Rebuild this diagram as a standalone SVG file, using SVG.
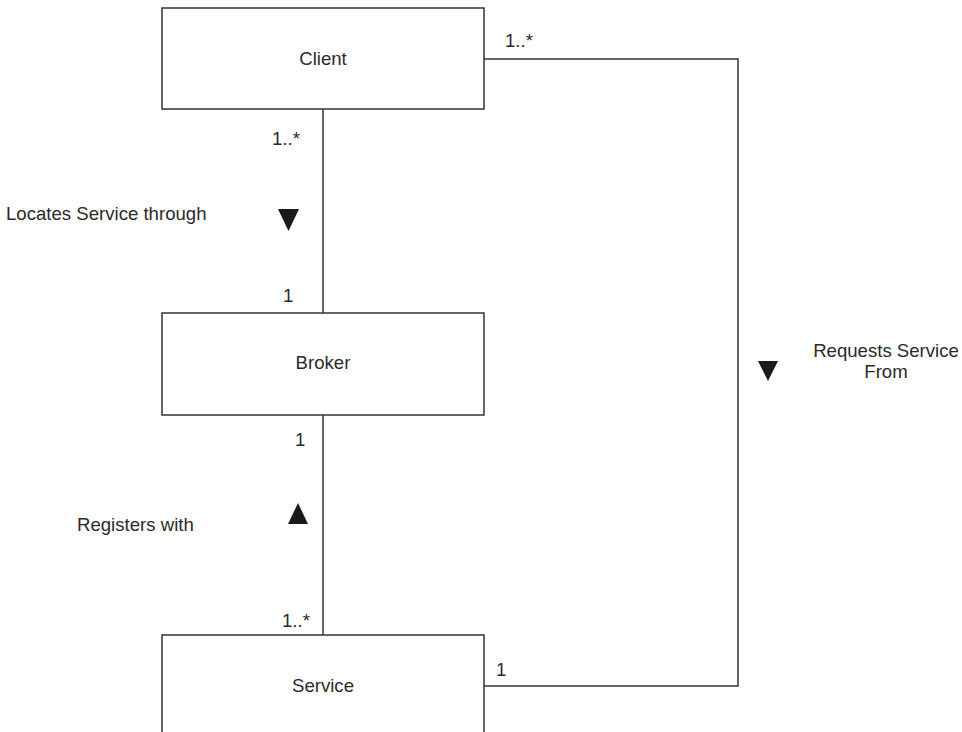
<svg xmlns="http://www.w3.org/2000/svg" width="962" height="732" viewBox="0 0 962 732">
<style>
.box{fill:#fff;stroke:#333;stroke-width:1.5}
.ln{fill:none;stroke:#333;stroke-width:1.5}
text{font-family:"Liberation Sans",Arial,sans-serif;font-size:18.6px;fill:#2a2a2a}
.c{text-anchor:middle}
.tri{fill:#1a1a1a}
</style>
<rect width="962" height="732" fill="#fff"/>
<g id="connectors">
<path class="ln" d="M323,109 V313"/>
<path class="ln" d="M323,415 V635"/>
<path class="ln" d="M484,59 H738 V686 H484"/>
<polygon class="tri" points="278,209 299,209 288.5,231"/>
<polygon class="tri" points="298,503 288,524 308,524"/>
<polygon class="tri" points="758,361 778,361 768,381"/>
<text x="505" y="47">1..*</text>
<text x="272" y="145">1..*</text>
<text x="6" y="220">Locates Service through</text>
<text x="283" y="302">1</text>
<text x="295" y="446">1</text>
<text x="77" y="531">Registers with</text>
<text x="282" y="627">1..*</text>
<text x="496" y="676">1</text>
<text class="c" x="886" y="357">Requests Service</text>
<text class="c" x="886" y="378">From</text>
</g>
<g id="client">
<rect class="box" x="162" y="8" width="322" height="101"/>
<text class="c" x="323" y="65">Client</text>
</g>
<g id="broker">
<rect class="box" x="162" y="313" width="322" height="102"/>
<text class="c" x="323" y="369">Broker</text>
</g>
<g id="service">
<rect class="box" x="162" y="635" width="322" height="120"/>
<text class="c" x="323" y="692">Service</text>
</g>
</svg>
